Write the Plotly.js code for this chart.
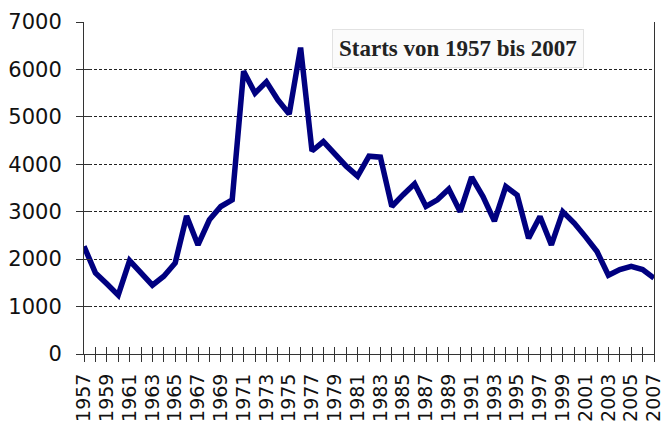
<!DOCTYPE html>
<html>
<head>
<meta charset="utf-8">
<script src="https://cdn.plot.ly/plotly-3.0.1.min.js"></script>
<style>html,body{margin:0;padding:0;background:#fff;}#chart{width:664px;height:435px;}</style>
</head>
<body>
<div id="chart"></div>
<script>
const years = [1957,1958,1959,1960,1961,1962,1963,1964,1965,1966,1967,1968,1969,1970,1971,1972,1973,1974,1975,1976,1977,1978,1979,1980,1981,1982,1983,1984,1985,1986,1987,1988,1989,1990,1991,1992,1993,1994,1995,1996,1997,1998,1999,2000,2001,2002,2003,2004,2005,2006,2007];
const starts = [2270,1710,1480,1240,1970,1730,1450,1640,1920,2910,2300,2830,3110,3250,5960,5500,5740,5360,5060,6460,4280,4480,4210,3960,3750,4170,4150,3110,3360,3590,3110,3250,3480,3000,3730,3320,2800,3530,3350,2440,2900,2300,3000,2760,2470,2160,1660,1780,1850,1780,1600];
const tickYears = years;
const tickLabels = ["1957","","1959","","1961","","1963","","1965","","1967","","1969","","1971","","1973","","1975","","1977","","1979","","1981","","1983","","1985","","1987","","1989","","1991","","1993","","1995","","1997","","1999","","2001","","2003","","2005","","2007"];
const yTicks = [0,1000,2000,3000,4000,5000,6000,7000];
const chartTitle = "Starts von 1957 bis 2007";

const traces = [
  {x: years, y: starts, type: 'scatter', mode: 'lines',
   line: {color: '#000080', width: 5.5}, hoverinfo: 'x+y'},
  {x: years, y: starts, type: 'scatter', mode: 'lines', xaxis: 'x2', yaxis: 'y2',
   line: {color: 'rgba(0,0,0,0)', width: 0}, hoverinfo: 'skip', showlegend: false}
];
const tickFont = {family: 'DejaVu Sans, Verdana, sans-serif', size: 21, color: '#111'};
const layout = {
  width: 664, height: 435,
  margin: {l: 84, r: 10, t: 22, b: 81},
  paper_bgcolor: '#fff', plot_bgcolor: '#fff',
  showlegend: false,
  xaxis: {
    range: [1957, 2007], tickmode: 'array', tickvals: tickYears, ticktext: tickLabels,
    tickangle: -90, ticks: 'outside', ticklen: 7, tickcolor: '#333', tickwidth: 1,
    showgrid: false, zeroline: false, showline: true, linecolor: '#333', linewidth: 1,
    tickfont: {family: 'DejaVu Sans, Verdana, sans-serif', size: 19, color: '#111'},
    ticklabelstandoff: 4, ticklabeloverflow: 'allow'
  },
  yaxis: {
    range: [0, 7000], tickmode: 'array', tickvals: yTicks,
    ticks: 'outside', ticklen: 7, tickcolor: '#333', tickwidth: 1,
    showgrid: true, gridcolor: '#222', gridwidth: 1, griddash: '3px,2px',
    zeroline: false, showline: true, linecolor: '#333', linewidth: 1, mirror: true,
    tickfont: tickFont, ticklabelstandoff: 10
  },
  xaxis2: {
    overlaying: 'x', range: [1957, 2007], tickmode: 'array', tickvals: tickYears,
    ticks: 'inside', ticklen: 7, tickcolor: '#333', tickwidth: 1,
    showticklabels: false, showgrid: false, zeroline: false, showline: false
  },
  yaxis2: {
    overlaying: 'y', range: [0, 7000], tickmode: 'array', tickvals: yTicks,
    ticks: 'inside', ticklen: 7, tickcolor: '#333', tickwidth: 1,
    showticklabels: false, showgrid: false, zeroline: false, showline: false
  },
  annotations: [{
    text: '<b>' + chartTitle + '</b>', xref: 'paper', yref: 'paper',
    x: 0.657, y: 0.92, xanchor: 'center', yanchor: 'middle', showarrow: false,
    font: {family: 'Liberation Serif, Times New Roman, serif', size: 23, color: '#222'},
    bgcolor: '#fbfbfb', bordercolor: '#e2e2e2', borderwidth: 1, borderpad: 6
  }]
};
Plotly.newPlot('chart', traces, layout, {displayModeBar: false, staticPlot: true});
</script>
</body>
</html>
